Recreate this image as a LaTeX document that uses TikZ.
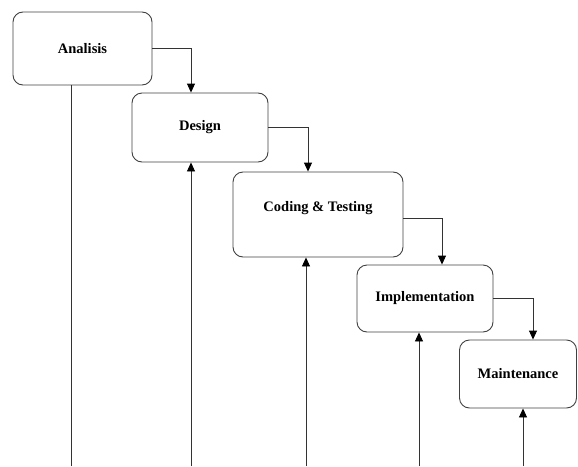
\documentclass[tikz,border=0pt]{standalone}
\usepackage{fontspec}
\setmainfont{Liberation Serif}
\usetikzlibrary{arrows.meta,positioning}
\tikzset{>={Triangle[length=9pt,width=8pt,black]}}
\tikzset{phase/.style={draw=black!75,line width=0.9pt,rounded corners=10pt,inner sep=0pt,
    font=\fontsize{14.5}{16}\selectfont\bfseries}}
\tikzset{flow/.style={draw=black!80,line width=0.9pt,->}}

\begin{document}
\begin{tikzpicture}[x=1pt,y=-1pt]
    \useasboundingbox (0,0) rectangle (578,466);

    \node[phase,minimum width=139,minimum height=73] (analisis) at (82.5,48.5) {Analisis};
    \node[phase,minimum width=136,minimum height=69] (design) at (200,127.5) {Design};
    \node[phase,minimum width=170,minimum height=85] (coding) at (318,214.5) {};
    \node[font=\fontsize{14.5}{16}\selectfont\bfseries] (codingtext) at (318,208) {Coding \& Testing};
    \node[phase,minimum width=136,minimum height=67] (impl) at (425,298.5) {Implementation};
    \node[phase,minimum width=117,minimum height=68] (maint) at (518,374) {Maintenance};

    \draw[flow] (analisis.east) -| ([xshift=-9]design.north);
    \draw[flow] (design.east) -| ([xshift=-10]coding.north);
    \draw[flow] ([yshift=-4]coding.east) -| ([xshift=17]impl.north);
    \draw[flow] (impl.east) -| ([xshift=15]maint.north);

    % lines from the bottom
    \coordinate (b1) at (71,466);
    \coordinate (b2) at (191,466);
    \coordinate (b3) at (306,466);
    \coordinate (b4) at (419,466);
    \coordinate (b5) at (523,466);
    \draw[draw=black!80,line width=0.9pt] (b1) -- (b1 |- analisis.south);
    \draw[flow] (b2) -- (b2 |- design.south);
    \draw[flow] (b3) -- (b3 |- coding.south);
    \draw[flow] (b4) -- (b4 |- impl.south);
    \draw[flow] (b5) -- (b5 |- maint.south);

  \end{tikzpicture}
\end{document}
